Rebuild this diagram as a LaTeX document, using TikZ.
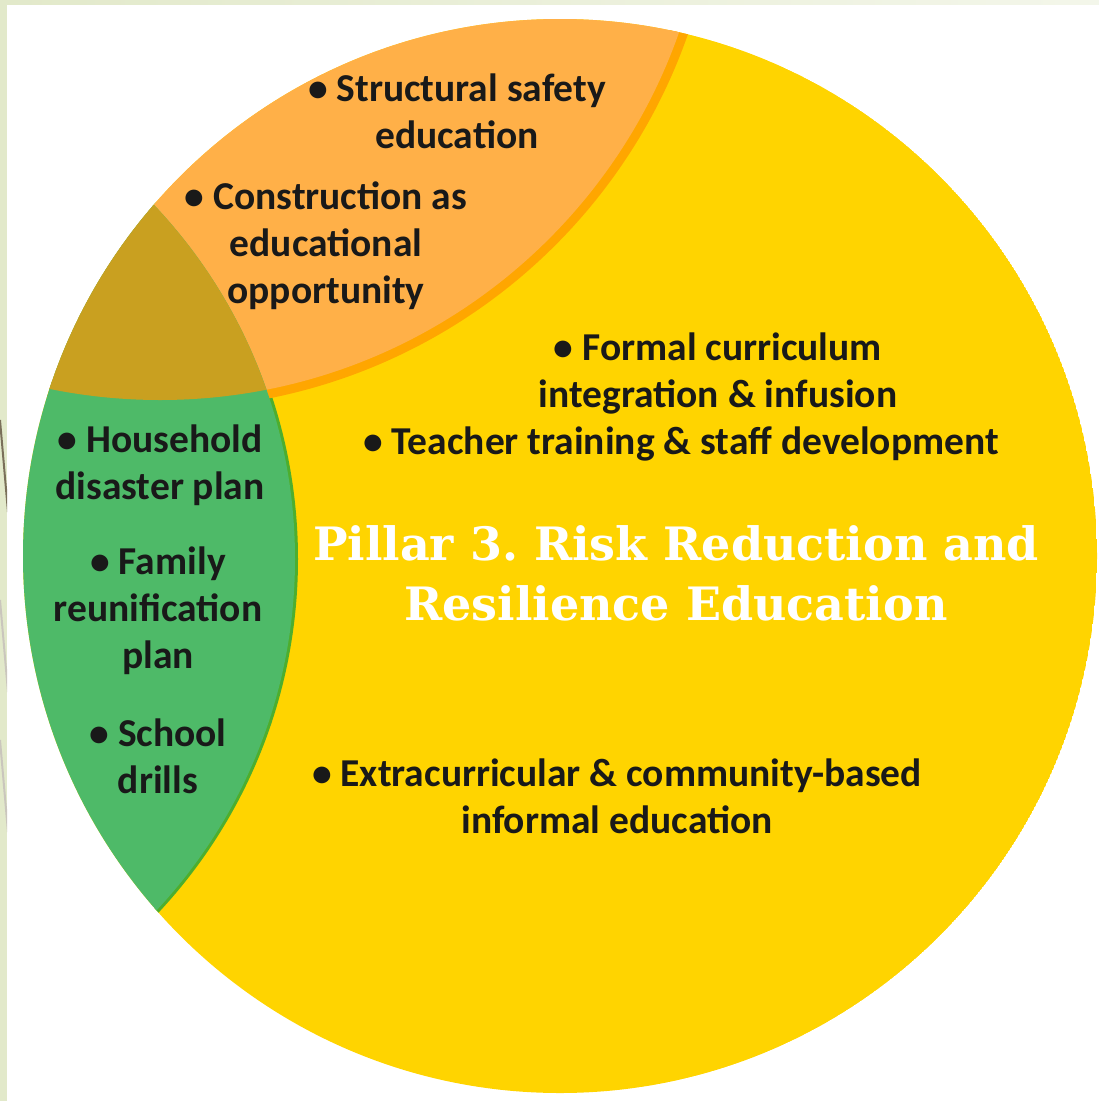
\documentclass[tikz,border=0pt]{standalone}
\usepackage{fontspec}
\setmainfont{Carlito}
\newfontfamily\pillarfont{DejaVu Serif}
\usepackage{tikz}
\usetikzlibrary{positioning}
\frenchspacing

\definecolor{pyellow}{HTML}{FFD400}
\definecolor{porange}{HTML}{FFB048}
\definecolor{porangeline}{HTML}{FFA600}
\definecolor{pgreen}{HTML}{4EBA68}
\definecolor{pgreenline}{HTML}{4DAE2E}
\definecolor{pbrown}{HTML}{C9A020}
\definecolor{slideband}{HTML}{E2E9CA}
\definecolor{slideline}{HTML}{7A705A}

\tikzset{
  item/.style={align=center, text=black!90, inner sep=0pt,
    font=\bfseries\fontsize{39.5}{47}\selectfont},
  pillar/.style={align=center, text=white, inner sep=0pt,
    font=\pillarfont\bfseries\fontsize{46}{60}\selectfont}
}

\begin{document}
\begin{tikzpicture}[x=1pt,y=-1pt]
\useasboundingbox (0,0) rectangle (1099,1101);
% slide background
\fill[slideband] (0,0) rectangle (1099,1101);
\shade[left color=slideband, right color=slideband!40] (0,0) rectangle (1099,5);
\fill[white] (7,5) rectangle (1099,1101);
\begin{scope}
  \clip (0,5) rectangle (7,1101);
  \draw[slideline, line width=2] (0,420) -- (8,512);
  \draw[slideline!40, line width=2] (0,600) -- (8,692);
  \draw[slideline!40, line width=2] (0,740) -- (8,832);
\end{scope}

\coordinate (mid) at (560,556);
\coordinate (ctop) at (160,-150);
\coordinate (cleft) at (-220,559);

% the three areas (edges first, the fills hide their inner halves)
\begin{scope}
  \clip (mid) circle [radius=537];
  \fill[pyellow] (mid) circle [radius=537];
  \draw[pgreenline, line width=6] (cleft) circle [radius=515];
  \draw[porangeline, line width=18] (ctop) circle [radius=550];
  \fill[porange] (ctop) circle [radius=550];
  \fill[pgreen] (cleft) circle [radius=515];
  \begin{scope}
    \clip (ctop) circle [radius=550];
    \fill[pbrown] (cleft) circle [radius=515];
  \end{scope}
\end{scope}

% texts
\node[item] (structural) at (457,111) {• Structural safety\\education};
\node[item] (construction) at (326,246) {• Construction as\\educational\\opportunity};
\node[item] (formal) at (718,373) {• Formal curriculum\\integration \& infusion};
\node[item] (teacher) at (681,444) {• Teacher training \& staff development};
\node[pillar] (pillar) at (676,573) {Pillar 3. Risk Reduction and\\Resilience Education};
\node[item] (extra) at (617,796) {• Extracurricular \& community-based\\informal education};
\node[item] (household) at (160,465) {• Household\\disaster plan};
\node[item] (family) at (158,611) {• Family\\reunification\\plan};
\node[item] (drills) at (158,756) {• School\\drills};
\end{tikzpicture}
\end{document}
